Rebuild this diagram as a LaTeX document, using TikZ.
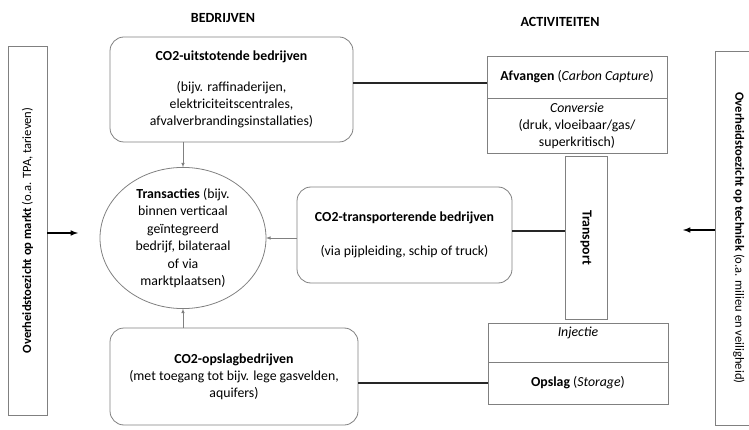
\documentclass[tikz,border=0pt]{standalone}
\usepackage{fontspec}
\setmainfont{Carlito}
\usetikzlibrary{shapes.geometric}

\begin{document}
\begin{tikzpicture}[x=1pt, y=-1pt, outer sep=0pt, font=\fontsize{13.8}{17}\selectfont]

\tikzstyle{bedrijf}=[draw=gray, rounded corners=14pt, align=center, anchor=north west, line width=0.8pt]
\tikzstyle{activiteit}=[draw=gray, rectangle, align=center, anchor=north west, minimum width=180pt, line width=0.8pt]
\tikzstyle{toezicht}=[draw=gray, rectangle, line width=0.8pt, font=\fontsize{12.6}{16}\selectfont]
\tikzstyle{kop}=[font=\fontsize{14}{16}\selectfont\bfseries]
\tikzstyle{link}=[draw=black!85, line width=1.6pt]
\tikzstyle{pijl}=[draw=gray, -latex, line width=0.6pt]
\tikzstyle{hoofdpijl}=[draw=black, -latex, line width=1.5pt]

\useasboundingbox (0,0) rectangle (749,430);

\node[kop] (bedrijven) at (223,18) {BEDRIJVEN}; \node[kop] (activiteiten) at (560,22) {ACTIVITEITEN};

\node[bedrijf, minimum width=243pt, minimum height=105pt] (uitstoot) at (110,37) {\textbf{CO2-uitstotende bedrijven}\\[14pt](bijv. raffinaderijen,\\elektriciteitscentrales,\\afvalverbrandingsinstallaties)};
\node[bedrijf, minimum width=215pt, minimum height=96pt] (vervoer) at (297,187) {\textbf{CO2-transporterende bedrijven}\\[17pt](via pijpleiding, schip of truck)};
\node[bedrijf, minimum width=248pt, minimum height=97pt] (opslagbedrijf) at (110,328) {\textbf{CO2-opslagbedrijven}\\(met toegang tot bijv. lege gasvelden,\\aquifers)};

\node[draw=gray, ellipse, line width=0.8pt, minimum width=166pt, minimum height=124pt, inner sep=0pt, align=center, font=\fontsize{13.8}{17.5}\selectfont] (trans) at (183,238) {\textbf{Transacties} (bijv.\\binnen verticaal\\geïntegreerd\\bedrijf, bilateraal\\of via\\marktplaatsen)};

\node[activiteit, minimum height=42pt] (afvang) at (487,56) {\textbf{Afvangen} (\textit{Carbon Capture})};
\node[activiteit, minimum height=55pt] (conversie) at (487,98) {\textit{Conversie}\\(druk, vloeibaar/gas/\\superkritisch)};
\node[activiteit, minimum width=42pt, minimum height=163pt] (transport) at (565,156) {};
\node[rotate=-90, font=\fontsize{13.8}{17}\selectfont\bfseries] (transporttekst) at (transport.center) {Transport};
\node[activiteit, minimum height=39pt] (injectie) at (488,323) {\textit{Injectie}\\\strut};
\node[activiteit, minimum height=42pt] (opslag) at (488,362) {\textbf{Opslag} (\textit{Storage})};

\node[toezicht, rotate=90, minimum width=369pt, minimum height=39pt] (markt) at (27.5,230.5) {\textbf{Overheidstoezicht op markt} (o.a. TPA, tarieven)};
\node[toezicht, rotate=-90, minimum width=374pt, minimum height=48pt] (techniek) at (739,238) {\textbf{Overheidstoezicht op techniek} (o.a. milieu en veiligheid)};

\coordinate (marktpijl) at (78,233); \coordinate (techniekpijl) at (683,230);

\draw[link] ([yshift=6.5pt]uitstoot.east) coordinate (u) -- (u -| afvang.west);
\draw[link] ([yshift=4pt]vervoer.east) coordinate (v) -- (v -| transport.west);
\draw[link] (opslag.west) -- (opslag.west -| opslagbedrijf.east);

\draw[pijl] (uitstoot.south -| trans) -- (trans.north);
\draw[pijl] (opslagbedrijf.north -| trans) -- (trans.south);
\draw[pijl] (vervoer.west |- trans) -- (trans.east);

\draw[hoofdpijl] (markt.south |- marktpijl) -- (marktpijl);
\draw[hoofdpijl] (techniek.south |- techniekpijl) -- (techniekpijl);

\end{tikzpicture}
\end{document}
